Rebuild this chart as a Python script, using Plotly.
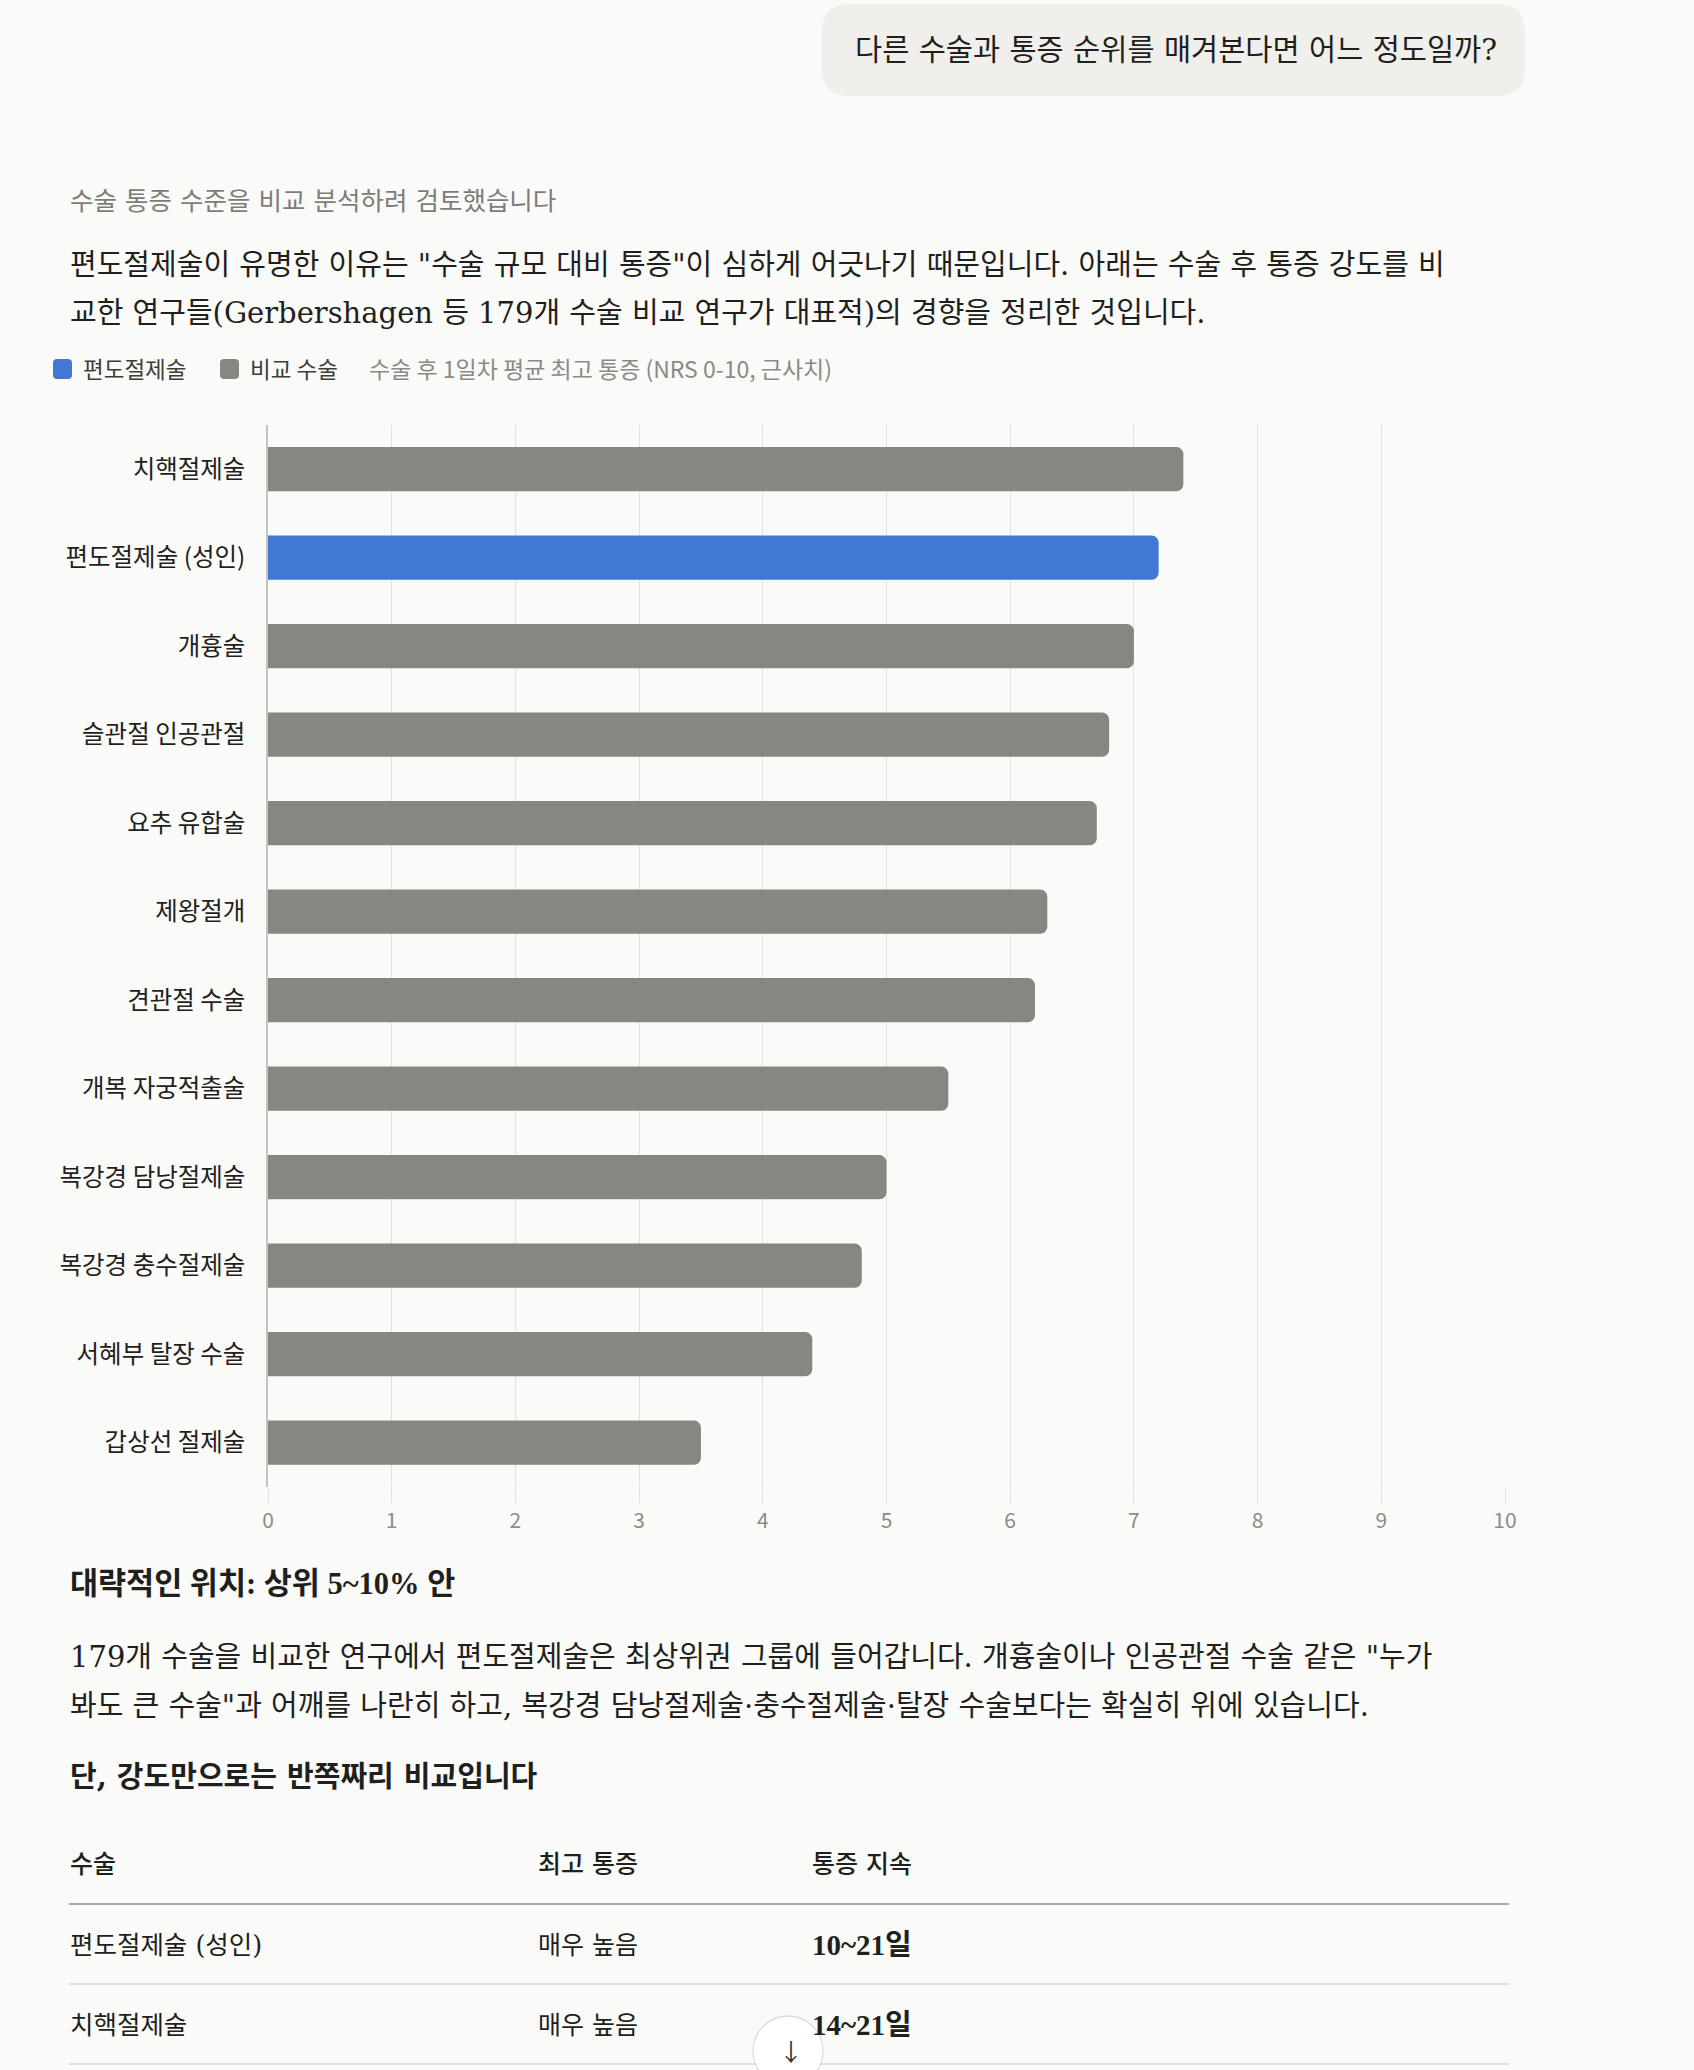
import plotly.graph_objects as go

W, H = 1694, 2070

# chart data
procedures = ["치핵절제술", "편도절제술 (성인)", "개흉술", "슬관절 인공관절", "요추 유합술", "제왕절개",
              "견관절 수술", "개복 자궁적출술", "복강경 담낭절제술", "복강경 충수절제술",
              "서혜부 탈장 수술", "갑상선 절제술"]
pain_scores = [7.4, 7.2, 7.0, 6.8, 6.7, 6.3, 6.2, 5.5, 5.0, 4.8, 4.4, 3.5]
highlight = "편도절제술 (성인)"
x_ticks = list(range(0, 11))

legend_labels = ["편도절제술", "비교 수술"]
chart_note = "수술 후 1일차 평균 최고 통증 (NRS 0-10, 근사치)"

# table below the chart
table_cols = ["수술", "최고 통증", "통증 지속"]
table_surgery = ["편도절제술 (성인)", "치핵절제술"]
table_peak = ["매우 높음", "매우 높음"]
table_duration = ["10~21일", "14~21일"]

BG = "#FAFAF8"
BLUE = "#4178D4"
GRAY = "#878681"
SANS = "Noto Sans CJK KR, Noto Sans, sans-serif"
BODY = "DejaVu Serif, Noto Sans CJK KR, serif"
NARROW = "Liberation Serif, Noto Sans CJK KR, serif"


def px(x):
    return x / W


def py(y):
    return 1 - y / H


def rounded_rect(x0, y0, x1, y1, r):
    # path in paper coords from pixel box
    pts = [
        f"M {px(x0 + r)},{py(y0)}",
        f"L {px(x1 - r)},{py(y0)}",
        f"Q {px(x1)},{py(y0)} {px(x1)},{py(y0 + r)}",
        f"L {px(x1)},{py(y1 - r)}",
        f"Q {px(x1)},{py(y1)} {px(x1 - r)},{py(y1)}",
        f"L {px(x0 + r)},{py(y1)}",
        f"Q {px(x0)},{py(y1)} {px(x0)},{py(y1 - r)}",
        f"L {px(x0)},{py(y0 + r)}",
        f"Q {px(x0)},{py(y0)} {px(x0 + r)},{py(y0)}",
        "Z",
    ]
    return " ".join(pts)


colors = [BLUE if p == highlight else GRAY for p in procedures]

fig = go.Figure()
fig.add_trace(go.Bar(
    x=pain_scores, y=procedures, orientation="h",
    marker=dict(color=colors, cornerradius=7, line=dict(width=0)),
    width=0.5, showlegend=False, hoverinfo="x+y",
))

annotations = []


def text(x, y, s, size, color="#1F1F1D", family=BODY, weight=None):
    f = dict(size=size, color=color, family=family)
    if weight:
        f["weight"] = weight
    annotations.append(dict(
        x=px(x), y=py(y), xref="paper", yref="paper", text=s, showarrow=False,
        xanchor="left", yanchor="middle", font=f, borderpad=0,
    ))


shapes = []

# user bubble
shapes.append(dict(type="path", xref="paper", yref="paper",
                   path=rounded_rect(822, 4, 1525, 96, 28),
                   fillcolor="#F0EFEB", line=dict(width=0)))
text(854, 50, "다른 수술과 통증 순위를 매겨본다면 어느 정도일까?", 29.5)

text(69, 201, "수술 통증 수준을 비교 분석하려 검토했습니다", 25.5, color="#7D7D78")
text(69, 265, "편도절제술이 유명한 이유는 \"수술 규모 대비 통증\"이 심하게 어긋나기 때문입니다. 아래는 수술 후 통증 강도를 비", 29)
text(69, 313, "교한 연구들(Gerbershagen 등 179개 수술 비교 연구가 대표적)의 경향을 정리한 것입니다.", 29)

# legend
shapes.append(dict(type="path", xref="paper", yref="paper",
                   path=rounded_rect(53, 359, 72, 379, 4), fillcolor=BLUE, line=dict(width=0)))
shapes.append(dict(type="path", xref="paper", yref="paper",
                   path=rounded_rect(220, 359, 239, 379, 4), fillcolor=GRAY, line=dict(width=0)))
text(82, 368, legend_labels[0], 22.5, color="#3D3D3A", family=SANS)
text(249, 368, legend_labels[1], 22.5, color="#3D3D3A", family=SANS)
text(368, 368, chart_note, 23, color="#8A8A85", family=SANS)

# text after the chart
text(69, 1584, "<b>대략적인 위치: 상위 5~10% 안</b>", 30.5, family=NARROW)
text(69, 1657, "179개 수술을 비교한 연구에서 편도절제술은 최상위권 그룹에 들어갑니다. 개흉술이나 인공관절 수술 같은 \"누가", 29)
text(69, 1706, "봐도 큰 수술\"과 어깨를 나란히 하고, 복강경 담낭절제술·충수절제술·탈장 수술보다는 확실히 위에 있습니다.", 29)
text(69, 1777, "<b>단, 강도만으로는 반쪽짜리 비교입니다</b>", 29)

# table
col_x = [69, 537, 811]
for cx, c in zip(col_x, table_cols):
    text(cx, 1864, c, 25, weight=500)
shapes.append(dict(type="line", xref="paper", yref="paper", x0=px(69), x1=px(1509),
                   y0=py(1904), y1=py(1904), line=dict(color="#8E8E8A", width=1.5)))
row_y = [1945, 2025]
for ry, s, pk, d in zip(row_y, table_surgery, table_peak, table_duration):
    text(col_x[0], ry, s, 25.5)
    text(col_x[1], ry, pk, 25)
    text(col_x[2], ry, f"<b>{d}</b>", 29, family=NARROW)
    shapes.append(dict(type="line", xref="paper", yref="paper", x0=px(69), x1=px(1509),
                       y0=py(ry + 39), y1=py(ry + 39), line=dict(color="#D8D8D3", width=1.3)))

# scroll-down button
shapes.append(dict(type="circle", xref="paper", yref="paper",
                   x0=px(753), x1=px(823), y0=py(2016), y1=py(2086),
                   fillcolor="#FFFFFF", line=dict(color="#DDDDD8", width=1.3)))
text(778, 2050, "↓", 24, color="#333333", family=SANS)

fig.update_layout(
    width=W, height=H,
    margin=dict(l=0, r=0, t=0, b=0),
    paper_bgcolor=BG, plot_bgcolor=BG,
    font=dict(family=SANS, color="#1F1F1D"),
    annotations=annotations,
    shapes=shapes,
    bargap=0.5,
    xaxis=dict(
        domain=[px(268), px(1505)], range=[0, 10], tickvals=x_ticks,
        showgrid=True, gridcolor="#E2E2DD", gridwidth=1.4, zeroline=False,
        ticks="outside", ticklen=15, tickcolor="#E2E2DD", tickwidth=1.4,
        tickfont=dict(size=21, color="#8C8C88", family=SANS),
        showline=False, automargin=False, fixedrange=True,
    ),
    yaxis=dict(
        domain=[py(1487), py(425)], autorange="reversed",
        showgrid=False, zeroline=False, showline=True, linecolor="#C4C4BF", linewidth=1.5,
        ticks="", ticklabelstandoff=16,
        tickfont=dict(size=24.5, color="#1F1F1D", family=SANS),
        automargin=False, fixedrange=True,
    ),
)

fig.write_html("out.html", config={"displayModeBar": False},
               post_script="document.body.style.margin='0';")
